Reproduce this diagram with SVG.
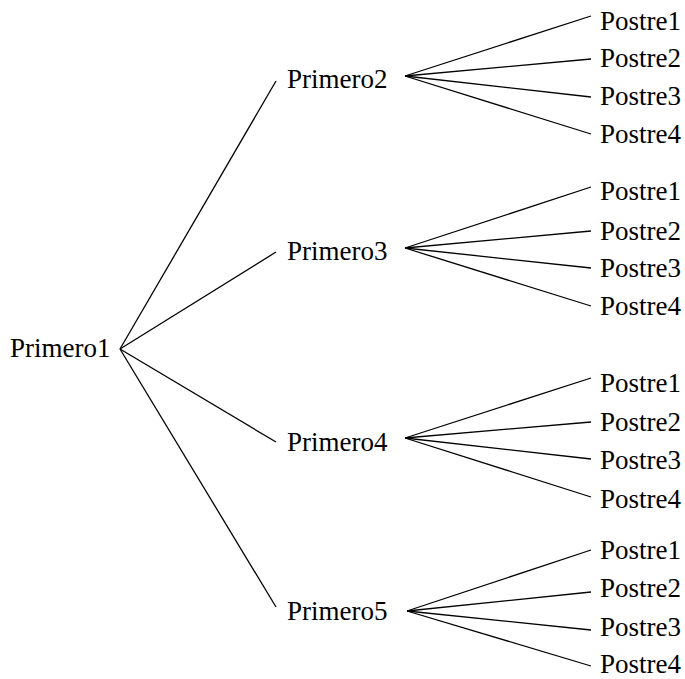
<svg xmlns="http://www.w3.org/2000/svg" width="685" height="679" viewBox="0 0 685 679">
<style>
text{font-family:"Liberation Serif","DejaVu Serif",serif;font-size:27px;fill:#000}
line{stroke:#000;stroke-width:1.3}
</style>
<rect width="685" height="679" fill="#fff"/>
<g id="connectors">
<line x1="120" y1="349" x2="276" y2="81"/>
<line x1="120" y1="349" x2="276" y2="252"/>
<line x1="120" y1="349" x2="276" y2="442"/>
<line x1="120" y1="349" x2="276" y2="607"/>
<line x1="405" y1="76" x2="591" y2="16"/>
<line x1="405" y1="76" x2="591" y2="59"/>
<line x1="405" y1="76" x2="591" y2="97"/>
<line x1="405" y1="76" x2="591" y2="134"/>
<line x1="405" y1="248" x2="591" y2="187"/>
<line x1="405" y1="248" x2="591" y2="231"/>
<line x1="405" y1="248" x2="591" y2="268"/>
<line x1="405" y1="248" x2="591" y2="306"/>
<line x1="405" y1="438" x2="591" y2="378"/>
<line x1="405" y1="438" x2="591" y2="422"/>
<line x1="405" y1="438" x2="591" y2="459"/>
<line x1="405" y1="438" x2="591" y2="497"/>
<line x1="407" y1="611" x2="591" y2="550"/>
<line x1="407" y1="611" x2="591" y2="592"/>
<line x1="407" y1="611" x2="591" y2="630"/>
<line x1="407" y1="611" x2="591" y2="666"/>
</g>
<g id="primero1"><text x="10" y="357">Primero1</text></g>
<g id="primero2"><text x="287" y="88">Primero2</text></g>
<g id="primero3"><text x="287" y="260">Primero3</text></g>
<g id="primero4"><text x="287" y="451">Primero4</text></g>
<g id="primero5"><text x="287" y="620">Primero5</text></g>
<g id="p2-postre1"><text x="600" y="30">Postre1</text></g>
<g id="p2-postre2"><text x="600" y="67">Postre2</text></g>
<g id="p2-postre3"><text x="600" y="105">Postre3</text></g>
<g id="p2-postre4"><text x="600" y="143">Postre4</text></g>
<g id="p3-postre1"><text x="600" y="200">Postre1</text></g>
<g id="p3-postre2"><text x="600" y="240">Postre2</text></g>
<g id="p3-postre3"><text x="600" y="277">Postre3</text></g>
<g id="p3-postre4"><text x="600" y="315">Postre4</text></g>
<g id="p4-postre1"><text x="600" y="392">Postre1</text></g>
<g id="p4-postre2"><text x="600" y="431">Postre2</text></g>
<g id="p4-postre3"><text x="600" y="469">Postre3</text></g>
<g id="p4-postre4"><text x="600" y="508">Postre4</text></g>
<g id="p5-postre1"><text x="600" y="559">Postre1</text></g>
<g id="p5-postre2"><text x="600" y="597">Postre2</text></g>
<g id="p5-postre3"><text x="600" y="636">Postre3</text></g>
<g id="p5-postre4"><text x="600" y="673">Postre4</text></g>
</svg>
